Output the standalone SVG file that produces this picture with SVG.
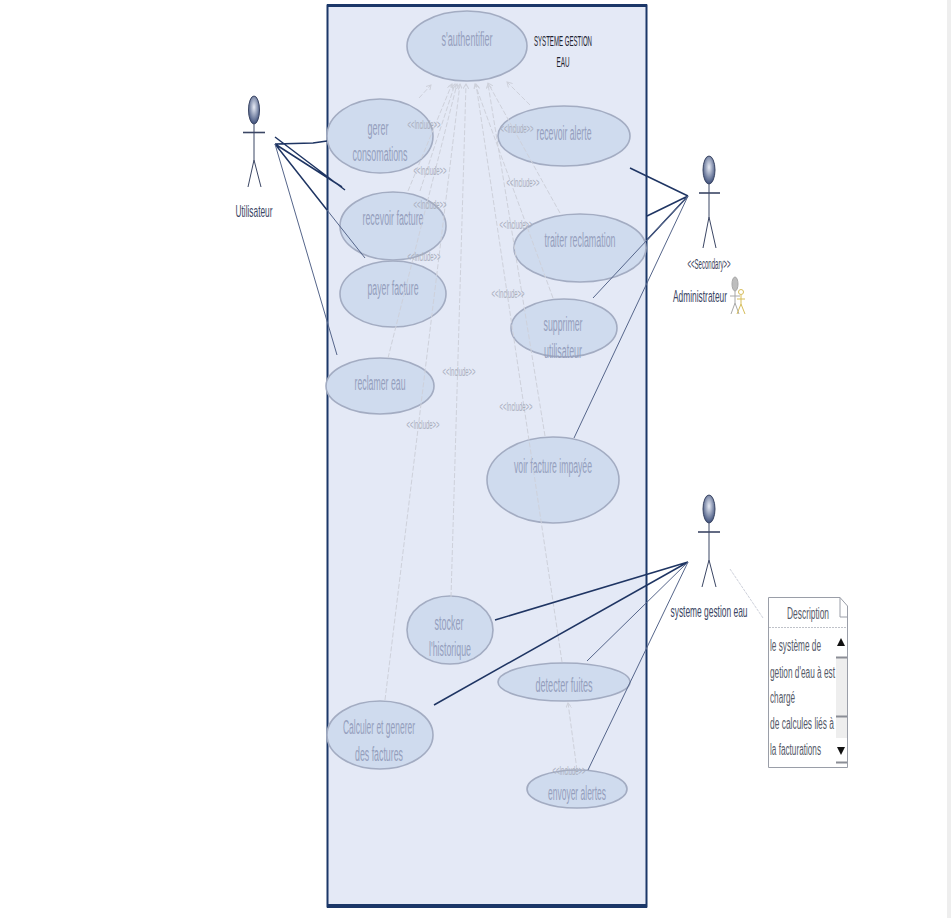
<svg xmlns="http://www.w3.org/2000/svg" width="951" height="918" viewBox="0 0 951 918">
<style>
text{font-family:"Liberation Sans",Arial,sans-serif}
.uc{fill:#cfdbee;stroke:#a3acc2;stroke-width:1.600}
.ut{fill:#959fbd;font-size:20px;text-anchor:middle}
.inc{fill:#a9aebd;font-size:13px;text-anchor:middle}
.dep{fill:none;stroke:#ced1db;stroke-width:1;stroke-dasharray:5 2;marker-end:url(#op)}
.thick{fill:none;stroke:#1f3563;stroke-width:1.500}
.thin{fill:none;stroke:#55658a;stroke-width:1}
.act{fill:none;stroke:#3b4664;stroke-width:1}
.arm{fill:none;stroke:#3b4664;stroke-width:1.600}
.lab{fill:#3a4563;font-size:17px;text-anchor:middle}
.note{fill:#555a68;font-size:16px}
</style>
<defs>
<marker id="op" markerWidth="6" markerHeight="6" refX="5" refY="3" orient="auto" markerUnits="userSpaceOnUse"><path d="M0 0L5 3L0 6" fill="none" stroke="#ced1db"/></marker>
<radialGradient id="hd" cx="0.5" cy="0.4" r="0.65"><stop offset="0" stop-color="#e8ecf6"/><stop offset="1" stop-color="#2f4270"/></radialGradient>
</defs>
<rect width="951" height="918" fill="#fff"/>
<rect x="947" y="0" width="4" height="918" fill="#eeeeee"/>
<g id="system-boundary">
<rect x="327.500" y="5.500" width="319" height="901" fill="#e4e9f6" stroke="#1b3768" stroke-width="2"/>
<rect x="327" y="4" width="320" height="3" fill="#1b3768"/>
<rect x="327" y="904" width="320" height="4" fill="#1b3768"/>
<text x="563" y="46" fill="#1d2230" font-size="15" text-anchor="middle" textLength="58" lengthAdjust="spacingAndGlyphs">SYSTEME GESTION</text>
<text x="563" y="67" fill="#1d2230" font-size="15" text-anchor="middle" textLength="13" lengthAdjust="spacingAndGlyphs">EAU</text>
</g>
<g id="uc-authentifier"><ellipse class="uc" cx="467" cy="46" rx="60" ry="35"/><text class="ut" x="467" y="46" textLength="51" lengthAdjust="spacingAndGlyphs">s'authentifier</text></g>
<g id="uc-gerer"><ellipse class="uc" cx="380" cy="136" rx="53" ry="37"/><text class="ut" x="378" y="135" textLength="21" lengthAdjust="spacingAndGlyphs">gerer</text><text class="ut" x="380" y="161" textLength="55" lengthAdjust="spacingAndGlyphs">consomations</text></g>
<g id="uc-recevoir-facture"><ellipse class="uc" cx="393" cy="226" rx="53" ry="34"/><text class="ut" x="393" y="225" textLength="61" lengthAdjust="spacingAndGlyphs">recevoir facture</text></g>
<g id="uc-payer"><ellipse class="uc" cx="393" cy="294" rx="53" ry="33"/><text class="ut" x="393" y="295" textLength="51" lengthAdjust="spacingAndGlyphs">payer facture</text></g>
<g id="uc-reclamer"><ellipse class="uc" cx="380" cy="386" rx="54" ry="28"/><text class="ut" x="380" y="390" textLength="51" lengthAdjust="spacingAndGlyphs">reclamer eau</text></g>
<g id="uc-recevoir-alerte"><ellipse class="uc" cx="564" cy="136" rx="66" ry="30"/><text class="ut" x="564" y="140" textLength="55" lengthAdjust="spacingAndGlyphs">recevoir alerte</text></g>
<g id="uc-traiter"><ellipse class="uc" cx="580" cy="248" rx="66" ry="34"/><text class="ut" x="580" y="247" textLength="71" lengthAdjust="spacingAndGlyphs">traiter reclamation</text></g>
<g id="uc-supprimer"><ellipse class="uc" cx="564" cy="328" rx="53" ry="29"/><text class="ut" x="563" y="331" textLength="39" lengthAdjust="spacingAndGlyphs">supprimer</text><text class="ut" x="563" y="358" textLength="38" lengthAdjust="spacingAndGlyphs">utilisateur</text></g>
<g id="uc-voir"><ellipse class="uc" cx="553" cy="480" rx="66" ry="43"/><text class="ut" x="553" y="473" textLength="78" lengthAdjust="spacingAndGlyphs">voir facture impayée</text></g>
<g id="uc-stocker"><ellipse class="uc" cx="450" cy="630" rx="43" ry="34"/><text class="ut" x="449" y="630" textLength="29" lengthAdjust="spacingAndGlyphs">stocker</text><text class="ut" x="450" y="656" textLength="42" lengthAdjust="spacingAndGlyphs">l'historique</text></g>
<g id="uc-detecter"><ellipse class="uc" cx="564" cy="682" rx="66" ry="19"/><text class="ut" x="564" y="692" textLength="57" lengthAdjust="spacingAndGlyphs">detecter  fuites</text></g>
<g id="uc-calculer"><ellipse class="uc" cx="380" cy="735" rx="53" ry="34"/><text class="ut" x="379" y="734" textLength="72" lengthAdjust="spacingAndGlyphs">Calculer et generer</text><text class="ut" x="379" y="761" textLength="48" lengthAdjust="spacingAndGlyphs">des factures</text></g>
<g id="uc-envoyer"><ellipse class="uc" cx="577" cy="789" rx="50" ry="19"/><text class="ut" x="577" y="800" textLength="58" lengthAdjust="spacingAndGlyphs">envoyer alertes</text></g>
<g id="connectors">
<path class="dep" d="M419 98L431 85"/>
<path class="dep" d="M408 191L452 84"/>
<path class="dep" d="M420 191L455 84"/>
<path class="dep" d="M388 358L457 84"/>
<path class="dep" d="M385 700L460 84"/>
<path class="dep" d="M451 597L466 84"/>
<path class="dep" d="M562 662L476 84"/>
<path class="dep" d="M545 436L488 84"/>
<path class="dep" d="M553 298L475 84"/>
<path class="dep" d="M560 213L488 83"/>
<path class="dep" d="M530 105L507 82"/>
<path class="dep" d="M577 770L568 703"/>
<path d="M730 569L763 618" fill="none" stroke="#ced1db" stroke-dasharray="3 1"/>
<path class="thick" d="M275 144L313 143L327 141M275 137L345 190M275 144L342 187M275 144L327 210"/>
<path class="thin" d="M327 210L365 258M275 144L337 355"/>
<path class="thick" d="M630 168L688 196M647 216L688 196M647 240L688 196M495 620L688 562M434 705L688 562"/>
<path class="thin" d="M593 298L688 196M574 438L688 196M587 661L688 562M588 770L688 562"/>
<text class="inc" x="424" y="129" textLength="33" lengthAdjust="spacingAndGlyphs">&lt;&lt;Include&gt;&gt;</text>
<text class="inc" x="430" y="175" textLength="33" lengthAdjust="spacingAndGlyphs">&lt;&lt;Include&gt;&gt;</text>
<text class="inc" x="430" y="209" textLength="33" lengthAdjust="spacingAndGlyphs">&lt;&lt;Include&gt;&gt;</text>
<text class="inc" x="424" y="261" textLength="33" lengthAdjust="spacingAndGlyphs">&lt;&lt;Include&gt;&gt;</text>
<text class="inc" x="517" y="133" textLength="33" lengthAdjust="spacingAndGlyphs">&lt;&lt;Include&gt;&gt;</text>
<text class="inc" x="523" y="187" textLength="33" lengthAdjust="spacingAndGlyphs">&lt;&lt;Include&gt;&gt;</text>
<text class="inc" x="516" y="229" textLength="33" lengthAdjust="spacingAndGlyphs">&lt;&lt;Include&gt;&gt;</text>
<text class="inc" x="508" y="298" textLength="33" lengthAdjust="spacingAndGlyphs">&lt;&lt;Include&gt;&gt;</text>
<text class="inc" x="459" y="376" textLength="33" lengthAdjust="spacingAndGlyphs">&lt;&lt;Include&gt;&gt;</text>
<text class="inc" x="516" y="411" textLength="33" lengthAdjust="spacingAndGlyphs">&lt;&lt;Include&gt;&gt;</text>
<text class="inc" x="423" y="429" textLength="33" lengthAdjust="spacingAndGlyphs">&lt;&lt;Include&gt;&gt;</text>
<text class="inc" x="569" y="775" textLength="33" lengthAdjust="spacingAndGlyphs">&lt;&lt;Include&gt;&gt;</text>
</g>
<g id="actor-utilisateur">
<ellipse cx="254" cy="110" rx="5.500" ry="14" fill="url(#hd)" stroke="#3b4664"/>
<path class="act" d="M254 124V160L248 187M254 160L261 187"/><path class="arm" d="M243 132.500H265"/>
<text class="lab" x="254" y="217" textLength="37" lengthAdjust="spacingAndGlyphs">Utilisateur</text>
</g>
<g id="actor-administrateur">
<ellipse cx="709" cy="170" rx="6" ry="14" fill="url(#hd)" stroke="#3b4664"/>
<path class="act" d="M709 184V217L703 248M709 217L716 248"/><path class="arm" d="M699 193H720"/>
<text x="709" y="269" fill="#3a4258" font-size="14" text-anchor="middle" textLength="43" lengthAdjust="spacingAndGlyphs">&lt;&lt;Secondary&gt;&gt;</text>
<text class="lab" x="700" y="302" textLength="54" lengthAdjust="spacingAndGlyphs">Administrateur</text>
<g fill="none" stroke="#a8a8a8"><ellipse cx="735" cy="284" rx="3" ry="7" fill="#bdbdbd"/><path d="M735 291V303L731 314M735 303L739 314M730 296H740"/></g>
<g fill="none" stroke="#d6bd5a"><circle cx="741" cy="292" r="2.500"/><path d="M741 295V304L737 314M741 304L745 314M737 299H745"/></g>
</g>
<g id="actor-systeme">
<ellipse cx="709" cy="509" rx="6" ry="14" fill="url(#hd)" stroke="#3b4664"/>
<path class="act" d="M709 523V560L702 587M709 560L716 587"/><path class="arm" d="M698 532H720"/>
<text class="lab" x="709" y="617" textLength="77" lengthAdjust="spacingAndGlyphs">systeme gestion eau</text>
</g>
<g id="note-description">
<path d="M768.500 597.500H840L847.500 606V767.500H768.500Z" fill="#fff" stroke="#9a9ea8"/>
<path d="M840 597.500V617H847.500" fill="none" stroke="#9a9ea8"/>
<path d="M769 627.500H847" stroke="#bfc2c9" stroke-dasharray="2 1"/>
<text x="808" y="619" fill="#555a68" font-size="17" text-anchor="middle" textLength="42" lengthAdjust="spacingAndGlyphs">Description</text>
<rect x="836" y="632" width="11" height="130" fill="#eeeeee"/>
<rect x="836" y="632" width="11" height="26" fill="#fff"/>
<rect x="836" y="738" width="11" height="24" fill="#fff"/>
<path d="M836 657.500H847M836 716.500H847M836 762.500H847" stroke="#8b8e96" stroke-width="2"/>
<path d="M841 638L845 646H837Z" fill="#111"/><path d="M841 755L845 747H837Z" fill="#111"/>
<text class="note" x="770" y="651" textLength="51" lengthAdjust="spacingAndGlyphs">le système de</text>
<text class="note" x="770" y="678" textLength="65" lengthAdjust="spacingAndGlyphs">getion d'eau à est</text>
<text class="note" x="770" y="703" textLength="25" lengthAdjust="spacingAndGlyphs">chargé</text>
<text class="note" x="770" y="729" textLength="64" lengthAdjust="spacingAndGlyphs">de calcules liés à</text>
<text class="note" x="770" y="755" textLength="51" lengthAdjust="spacingAndGlyphs">la facturations</text>
</g>
</svg>
